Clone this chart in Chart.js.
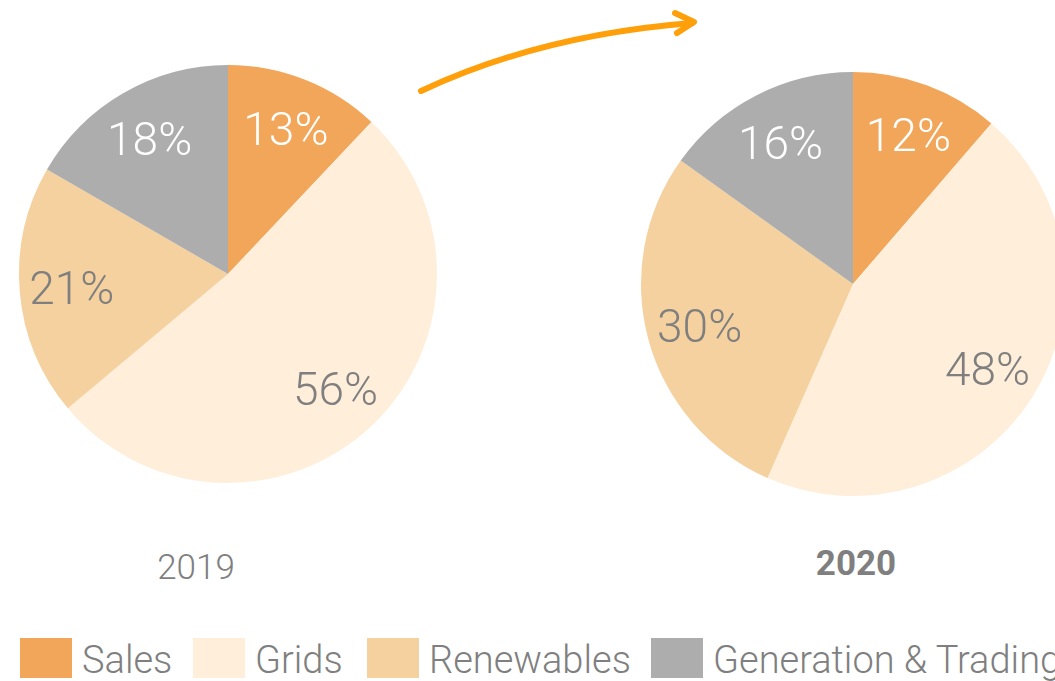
<!DOCTYPE html>
<html>
<head>
<meta charset="utf-8">
<script src="https://cdn.jsdelivr.net/npm/chart.js@4/dist/chart.umd.min.js"></script>
<style>
  html, body { margin: 0; padding: 0; background: #fff; overflow: hidden; }
  body { width: 1055px; height: 681px; position: relative; font-family: Roboto, sans-serif; }
  .pie { position: absolute; }
  .year { position: absolute; color: #7f7f7f; font-size: 35px; font-weight: 300; transform: translateX(-50%); }
  #legend { position: absolute; left: 20px; top: 638px; white-space: nowrap; }
  .lg-item { position: absolute; top: 0; height: 40px; }
  .lg-box { position: absolute; left: 0; top: 0; width: 52px; height: 40px; }
  .lg-text { position: absolute; left: 62px; top: -1px; font-size: 38px; font-weight: 300; color: #7f7f7f; line-height: 46px; }
  svg { position: absolute; left: 0; top: 0; }
</style>
</head>
<body>
<svg width="1055" height="681">
  <path d="M421 91 Q 540 35 692 23" fill="none" stroke="#ff9f0a" stroke-width="6" stroke-linecap="round"/>
  <path d="M675 13 L 694 22 L 677 33" fill="none" stroke="#ff9f0a" stroke-width="6" stroke-linecap="round" stroke-linejoin="round"/>
</svg>
<div class="pie" style="left:8px; top:54px; width:440px; height:440px;"><canvas id="pie2019" width="440" height="440"></canvas></div>
<div class="pie" style="left:633px; top:64px; width:440px; height:440px;"><canvas id="pie2020" width="440" height="440"></canvas></div>
<div class="year" style="left:196px; top:547px;">2019</div>
<div class="year" style="left:856px; top:543px; font-weight:bold;">2020</div>
<div id="legend"></div>
<script>
// データ
const categories = ['Sales', 'Grids', 'Renewables', 'Generation & Trading'];
const values2019 = [13, 56, 21, 18];
const values2020 = [12, 48, 30, 16];

const sliceColors = ['#f2a65a', '#ffeed9', '#f4d19f', '#adadad'];
const labelColors = ['#ffffff', '#7f7f7f', '#7f7f7f', '#ffffff'];
const legendOffsets = [0, 173, 347, 631];

// スライス上に % ラベルを描く
const pctLabels = {
    id: 'pctLabels',
    afterDatasetsDraw(chart) {
        const ctx = chart.ctx;
        const meta = chart.getDatasetMeta(0);
        const data = chart.data.datasets[0].data;
        ctx.save();
        ctx.font = '300 46px Roboto';
        ctx.textAlign = 'center';
        ctx.textBaseline = 'middle';
        meta.data.forEach((arc, i) => {
            const mid = (arc.startAngle + arc.endAngle) / 2;
            const r = arc.outerRadius * 0.75;
            ctx.fillStyle = labelColors[i];
            ctx.fillText(data[i] + '%', arc.x + Math.cos(mid) * r, arc.y + Math.sin(mid) * r + 5);
        });
        ctx.restore();
    }
};

function makePie(id, values, pad) {
    return new Chart(document.getElementById(id), {
        type: 'pie',
        data: {
            labels: categories,
            datasets: [{ data: values, backgroundColor: sliceColors, borderWidth: 0 }]
        },
        options: {
            responsive: false,
            animation: false,
            layout: { padding: pad },
            plugins: { legend: { display: false }, tooltip: { enabled: false } }
        },
        plugins: [pctLabels]
    });
}

makePie('pie2019', values2019, 11);
makePie('pie2020', values2020, 8);

// 凡例
const legend = document.getElementById('legend');
categories.forEach((name, i) => {
    const item = document.createElement('div');
    item.className = 'lg-item';
    item.style.left = legendOffsets[i] + 'px';
    item.innerHTML = `<div class="lg-box" style="background:${sliceColors[i]}"></div><div class="lg-text">${name}</div>`;
    legend.appendChild(item);
});
</script>
</body>
</html>
